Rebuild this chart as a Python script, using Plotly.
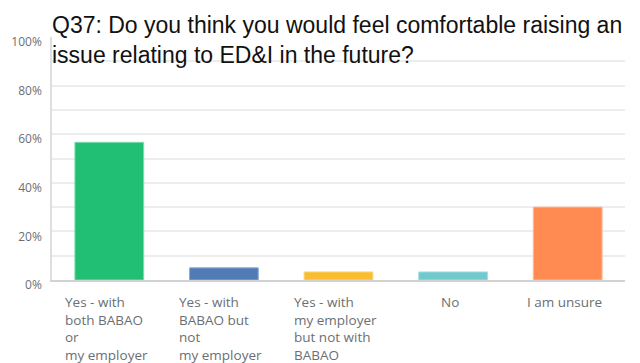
import plotly.graph_objects as go

# Survey answers and share of respondents (%)
categories = [
    "Yes - with both BABAO or my employer",
    "Yes - with BABAO but not my employer",
    "Yes - with my employer but not with BABAO",
    "No",
    "I am unsure",
]
tick_labels = [
    "Yes - with<br>both BABAO<br>or<br>my employer",
    "Yes - with<br>BABAO but<br>not<br>my employer",
    "Yes - with<br>my employer<br>but not with<br>BABAO",
    "No",
    "I am unsure",
]
values = [56.67, 5.0, 3.33, 3.33, 30.0]
bar_colors = ["#21BF73", "#507CB6", "#F9BE2F", "#6FC9CD", "#FF8B53"]
edge_colors = ["#7fdcae", "#8fabd3", "#fcd67f", "#a6dfe2", "#ffb992"]
y_ticks = [0, 20, 40, 60, 80, 100]
y_tick_text = ["0%", "20%", "40%", "60%", "80%", "100%"]

title_text = ("Q37: Do you think you would feel comfortable raising an<br>"
              "issue relating to ED&I in the future?")

fig = go.Figure(
    go.Bar(
        x=categories,
        y=values,
        marker=dict(color=bar_colors, line=dict(color=edge_colors, width=1)),
        hoverinfo="x+y",
    )
)

label_font = dict(family="Open Sans", size=13.5, color="#6b6f73")

# category labels, lines left-aligned inside a centred block
for cat, lab in zip(categories, tick_labels):
    fig.add_annotation(
        x=cat, y=0, xref="x", yref="paper",
        text=lab, showarrow=False, align="left",
        xanchor="center", yanchor="top", xshift=-3, yshift=-11,
        font=label_font,
    )

# Title sits over the top of the plot area
fig.add_annotation(
    x=0, y=1, xref="paper", yref="paper",
    text=title_text, showarrow=False, align="left",
    xanchor="left", yanchor="bottom", xshift=-2, yshift=-33,
    font=dict(family="Liberation Sans, Arial", size=23, color="#111111"),
)

# hide the top gridline behind the title block
fig.add_shape(
    type="rect", xref="paper", yref="y",
    x0=0.004, x1=1.0, y0=98.8, y1=101.2,
    fillcolor="white", line=dict(width=0), layer="above",
)

fig.update_layout(
    width=640, height=363,
    margin=dict(l=52, r=15, t=37, b=83),
    paper_bgcolor="white", plot_bgcolor="white",
    bargap=0.4,
    showlegend=False,
)

fig.update_xaxes(
    showticklabels=False, ticks="",
    showline=True, linecolor="#d2d2d2", linewidth=2,
    showgrid=False,
)

fig.update_yaxes(
    range=[0, 100],
    tickvals=y_ticks, ticktext=y_tick_text,
    tickfont=dict(family="Open Sans", size=12, color="#6b6f73"),
    ticklabelshift=5, ticklabelstandoff=6,
    showgrid=True, gridcolor="#ededed", gridwidth=1.5,
    minor=dict(dtick=10, showgrid=True, gridcolor="#ededed", gridwidth=1.5),
    showline=True, linecolor="#dedede", linewidth=1.5,
    zeroline=False,
)

fig.write_html("out.html")
